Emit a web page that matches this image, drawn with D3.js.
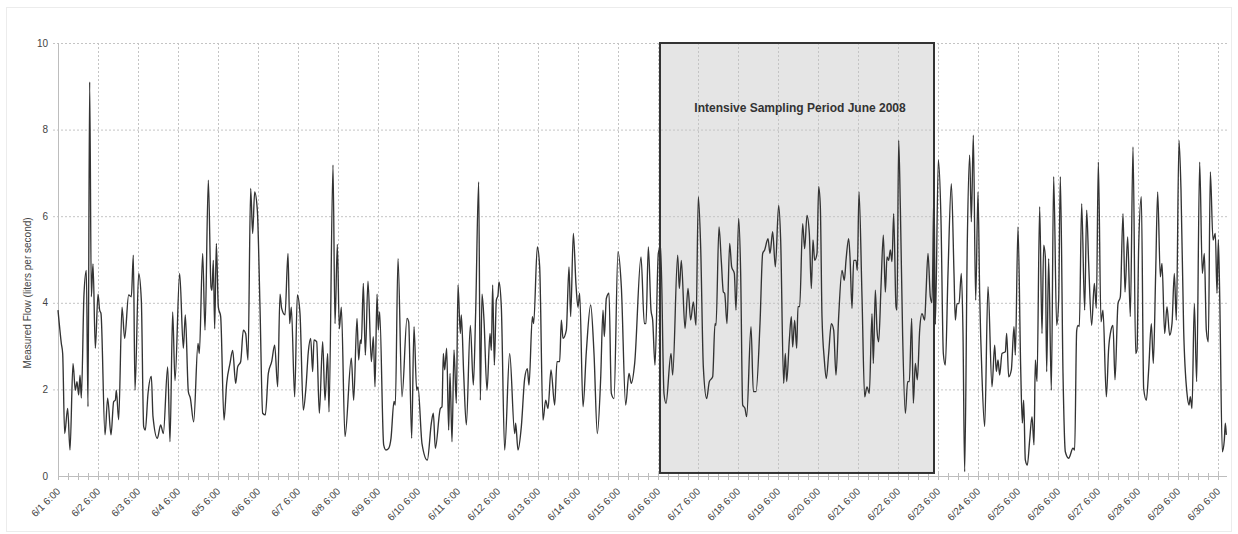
<!DOCTYPE html>
<html>
<head>
<meta charset="utf-8">
<script src="https://cdnjs.cloudflare.com/ajax/libs/d3/7.8.5/d3.min.js"></script>
<style>
  body { margin: 0; background: #fff; }
  svg { display: block; font-family: "Liberation Sans", Arial, sans-serif; }
</style>
</head>
<body>
<div id="chart"></div>
<script>
// Data: hours after 6/1/2008 6:00, and measured flow (liters per second)
var hours = [
  0, 2, 2.8, 4, 5.8, 7.2, 9, 10.4, 11.4, 12.4,
  13.2, 14, 15.6, 17, 18, 19, 20, 21, 22.4, 24,
  25, 25.8, 28.2, 29.8, 31.8, 33.4, 34.4, 35, 36.4, 38.4,
  40, 42.4, 44, 45.2, 46.2, 48.4, 50, 51.4, 52.4, 54,
  56, 57, 59.6, 61.6, 63.2, 65.8, 67.2, 68.8, 70.2, 73,
  75.2, 76.4, 78.2, 79.4, 81.4, 84, 84.8, 86.8, 88.2, 90.2,
  91.8, 92.4, 93.2, 94, 95, 96.2, 97.6, 99.6, 101.2, 103.2,
  104.8, 106.6, 107.8, 109.6, 111.2, 112.6, 114, 115.6, 116.8, 118,
  119.6, 121.2, 122.8, 124.4, 126.2, 128.2, 130, 131.8, 133.2, 134.2,
  136.2, 138, 139, 140, 142, 143.6, 145.2, 147.2, 148.8, 150.2,
  151.6, 152.8, 153.6, 155.2, 156.8, 158.8, 160.2, 161.8, 162.6, 165,
  166.2, 167.6, 168.8, 170, 172.2, 176, 177.4, 179.4, 180.4, 181.4,
  182, 183.2, 184.4, 186, 188, 189.2, 190.2, 191.4, 192.2, 193,
  195.4, 196.8, 198.4, 199.8, 201.6, 202.4, 204, 206.4, 209.4, 210.4,
  212.2, 213.6, 215.2, 216, 218.4, 221.6, 224, 225.2, 226.4, 229.4,
  230.4, 231.2, 232, 233.2, 234.4, 235.2, 236.4, 237.6, 239, 240,
  241.4, 242, 243.4, 245, 247.4, 249.2, 250.6, 252.4, 253.4, 254.4,
  255.6, 257.4, 259.2, 260, 260.8, 261.8, 263, 264, 264.6, 266,
  268, 271, 274, 274.6, 276, 278, 280, 281.6, 282.6, 284.6,
  285.4, 287.6, 289, 291, 292.6, 294, 295.8, 298, 299.4, 301,
  302, 303, 305, 306.6, 307.6, 309.2, 310.8, 312, 313, 315,
  317, 319.6, 321.6, 323.6, 325.6, 327, 327.8, 329, 330.6, 332,
  333.6, 336, 338, 340.6, 342.6, 344, 346, 349.8, 351.8, 352.8,
  354.2, 355.8, 356.8, 358.2, 360.2, 361.6, 363.6, 364.8, 367.8, 368.8,
  371.8, 372.8, 374, 376.2, 378, 379.6, 381.2, 382.8, 384.2, 385.6,
  387.2, 389.2, 390.8, 392.8, 394.2, 394.8, 396.6, 398, 399.2, 400,
  401.4, 403, 404.2, 405.8, 406.8, 408.4, 409.6, 410.8, 412.2, 413.2,
  415.8, 417.2, 418.8, 421.2, 422.8, 424, 426, 427.2, 428.8, 430.4,
  432.4, 433.6, 435.4, 436.4, 437.2, 438.8, 440, 440.8, 442, 443.2,
  444, 445, 446.8, 448, 449.4, 450.8, 452, 453, 454, 455.4,
  456.4, 457.4, 458.4, 459.8, 461, 462.4, 464, 465.4, 466.8, 468.4,
  470.4, 471.8, 472.8, 474.4, 475.2, 476.4, 477.4, 478.8, 479.6, 480.6,
  482.4, 484, 485.4, 486.8, 488.4, 489.2, 490.4, 491.4, 492.4, 493.8,
  495.2, 496.4, 497.4, 498.4, 499.4, 500.4, 501.4, 502.8, 503.4, 504.4,
  505.4, 506.8, 508.4, 509.8, 510.8, 512.2, 513.2, 514.4, 515.6, 517,
  518.4, 520, 520.8, 522, 523.4, 524.4, 525.6, 526.4, 528.2, 529.8,
  531.2, 532.4, 534, 536, 537.6, 538.4, 539.4, 540.6, 542, 543,
  544, 545.6, 547, 548, 549.2, 550.6, 552, 553, 554.4, 556,
  558, 560.4, 562, 563, 564, 565, 566.4, 568.4, 569.2, 570.4,
  572, 573.6, 574.4, 576, 577.6, 578.6, 579.4, 580.4, 581.6, 583,
  584.4, 585.6, 586.4, 587.4, 589, 590.4, 591.4, 592.4, 593.2, 594.4,
  596, 597.4, 599.2, 600.4, 601.4, 603, 604.4, 606.4, 609, 610,
  611.2, 612, 612.8, 614.2, 616, 617.2, 618.4, 620.2, 621.8, 623,
  624.2, 625.8, 627, 629, 630.4, 631.8, 633, 634.2, 636, 637.4,
  639, 640.2, 641.8, 643.4, 645, 646.6, 647.4, 648.4, 650, 651.4,
  653, 654.4, 656, 657.2, 658.6, 659.8, 661.4, 662.4, 664, 665.4,
  667, 668.4, 669.8, 671, 672.6, 673.8, 675.4, 677.4, 678.6, 679.4,
  680.4, 681.8, 683.2, 685, 686.6, 687.8, 689, 690.2, 691.4, 693,
  694.4, 695.4, 696.2, 697, 698.6, 699.8, 700.4, 701
];

var flow = [
  3.83, 3.06, 2.83, 0.98, 1.56, 0.6, 2.6, 1.98, 2.18, 1.87,
  2.33, 1.8, 4.2, 4.75, 1.6, 9.1, 4.14, 4.9, 2.95, 4.2,
  3.83, 3.75, 0.95, 1.8, 0.95, 1.72, 1.75, 1.98, 1.3, 3.9,
  3.18, 4.18, 4.14, 5.1, 1.98, 4.68, 4.06, 1.14, 1.06, 1.9,
  2.3, 1.37, 0.87, 1.18, 0.98, 2.52, 0.79, 3.79, 2.2, 4.68,
  2.95, 3.72, 1.95, 1.8, 1.25, 3.06, 2.83, 5.14, 3.37, 6.83,
  4.37, 4.29, 4.98, 3.4, 5.37, 3.9, 3.68, 1.29, 2.14, 2.6,
  2.9, 2.14, 2.52, 2.64, 3.37, 3.29, 2.68, 6.64, 5.6, 6.56,
  6.14, 3.9, 1.45, 1.41, 2.37, 2.64, 3.02, 2.06, 4.2, 3.87,
  3.72, 5.14, 3.52, 3.9, 1.83, 4.18, 3.75, 1.52, 2.06, 2.87,
  3.18, 2.41, 3.14, 3.1, 1.45, 3.1, 1.75, 2.83, 1.48, 7.18,
  3.52, 5.35, 3.4, 3.9, 0.91, 2.72, 1.75, 3.64, 2.68, 3.14,
  3.06, 4.45, 2.79, 4.5, 2.64, 3.22, 2.06, 4.2, 3.37, 3.79,
  0.72, 0.6, 0.64, 0.87, 1.72, 1.64, 5.02, 1.83, 3.64, 3.56,
  0.87, 3.45, 1.98, 2.06, 0.75, 0.37, 1.22, 1.45, 0.64, 1.56,
  1.6, 2.83, 2.45, 2.95, 1.06, 2.37, 0.79, 2.91, 1.68, 4.41,
  3.29, 3.72, 2.37, 1.18, 3.48, 2.1, 3.79, 6.79, 1.75, 4.2,
  3.6, 1.98, 3.29, 2.9, 4.41, 2.56, 4.06, 4.18, 4.48, 3.9,
  0.6, 2.83, 0.98, 1.22, 0.6, 1.14, 2.25, 2.48, 2.1, 3.68,
  3.52, 5.29, 4.83, 1.29, 1.75, 1.56, 2.45, 1.64, 2.64, 2.64,
  3.6, 3.18, 3.37, 4.83, 3.68, 5.6, 4.41, 3.9, 4.22, 1.6,
  2.87, 3.95, 2.83, 0.98, 2.25, 3.83, 3.22, 4.1, 4.22, 1.91,
  1.79, 5.18, 4.37, 1.64, 2.37, 2.14, 2.6, 5.06, 3.52, 3.52,
  5.29, 3.83, 3.6, 2.56, 5.14, 5.3, 1.9, 1.68, 2.83, 2.33,
  5.1, 4.33, 4.98, 3.41, 4.33, 3.6, 4.02, 3.48, 6.45, 5.29,
  2.52, 1.79, 2.18, 2.29, 3.52, 3.48, 5.75, 4.95, 4.25, 4.22,
  3.52, 5.37, 4.83, 4.68, 3.83, 5.95, 4.68, 1.64, 1.56, 1.37,
  3.45, 1.95, 1.95, 3.52, 5.14, 5.22, 5.48, 5.14, 5.64, 4.83,
  6.25, 5.45, 2.14, 2.83, 2.18, 3.14, 3.68, 2.98, 3.6, 2.95,
  3.91, 3.91, 5.83, 5.25, 6.02, 5.6, 4.33, 5.45, 4.98, 5.14,
  6.68, 6.22, 3.68, 2.68, 2.25, 2.83, 3.52, 3.37, 2.33, 3.68,
  4.75, 4.52, 4.98, 5.48, 5.06, 3.87, 4.98, 4.98, 4.75, 6.56,
  4.14, 1.83, 2.06, 1.91, 3.75, 2.6, 4.29, 3.37, 3.1, 4.37,
  5.56, 4.25, 5.06, 4.98, 5.22, 4.95, 6.06, 3.91, 3.83, 7.75,
  6.22, 3.22, 1.45, 2.18, 2.18, 3.64, 1.68, 2.6, 2.22, 3.37,
  3.75, 3.6, 4.22, 5.14, 4.14, 4.0, 6.6, 3.5, 7.3, 5.9,
  2.83, 2.56, 4.68, 6.75, 4.68, 3.6, 3.98, 3.98, 4.68, 3.29,
  0.1, 5.45, 7.41, 5.87, 7.87, 4.06, 6.56, 4.22, 2.29, 1.14,
  4.37, 2.06, 3.02, 2.41, 2.68, 2.33, 2.83, 2.87, 3.29, 2.29,
  2.45, 3.45, 2.79, 5.75, 2.52, 1.22, 1.75, 0.37, 0.25, 0.83,
  1.37, 0.72, 2.68, 2.18, 6.22, 3.29, 5.33, 5.06, 2.41, 5.02,
  1.98, 6.91, 3.48, 4.06, 6.91, 2.37, 0.56, 0.41, 0.64, 0.6,
  3.35, 3.48, 3.45, 6.29, 3.83, 6.14, 4.91, 3.48, 4.45, 3.87,
  7.25, 3.56, 3.83, 1.83, 2.95, 3.37, 3.48, 2.22, 3.98, 4.14,
  6.06, 4.25, 5.52, 3.68, 7.6, 2.83, 2.91, 5.29, 6.45, 2.02,
  1.75, 2.45, 3.52, 2.6, 4.68, 6.56, 4.6, 4.91, 3.29, 3.91,
  3.25, 3.52, 4.68, 3.6, 7.75, 6.6, 3.37, 1.91, 1.64, 1.83,
  1.56, 3.98, 2.18, 7.25, 4.68, 5.14, 3.37, 3.1, 7.02, 5.45,
  5.6, 4.22, 5.45, 4.22, 0.56, 0.83, 1.22, 0.95
];

// y ticks
var yTicks = [0, 2, 4, 6, 8, 10];

// Intensive sampling period (hours after start) and its label
var periodHours = [361.2, 525.6];
var periodLabel = "Intensive Sampling Period June 2008";
var yLabel = "Measured Flow (liters per second)";

var start = new Date(2008, 5, 1, 6, 0);
function toDate(h) { return new Date(start.getTime() + h * 3600 * 1000); }

if (hours.length !== flow.length) console.warn("length mismatch", hours.length, flow.length);

var data = hours.map(function(h, i) { return { t: toDate(h), v: flow[i] }; });

// svg container
var svgWidth = 1238;
var svgHeight = 534;
var margin = { top: 43, right: 11, bottom: 58, left: 58 };
var chartWidth = svgWidth - margin.left - margin.right;
var chartHeight = svgHeight - margin.top - margin.bottom;

var svg = d3.select("#chart").append("svg")
  .attr("width", svgWidth)
  .attr("height", svgHeight);

// faint frame round the picture
svg.append("rect")
  .attr("x", 6.5).attr("y", 7.5)
  .attr("width", svgWidth - 13).attr("height", svgHeight - 10)
  .attr("fill", "none")
  .attr("stroke", "#ececec");

var chartGroup = svg.append("g")
  .attr("transform", "translate(" + margin.left + "," + margin.top + ")");

var xScale = d3.scaleTime()
  .domain([start, toDate(701.4)])
  .range([0, chartWidth]);

var yScale = d3.scaleLinear()
  .domain([0, 10])
  .range([chartHeight, 0]);

var dayTicks = d3.range(0, 30).map(function(d) { return toDate(d * 24); });
var minorTicks = d3.range(0, 702, 6).map(toDate);
var fmt = d3.timeFormat("%-m/%-d %-H:%M");

// shaded sampling period
var px0 = xScale(toDate(periodHours[0]));
var px1 = xScale(toDate(periodHours[1]));
chartGroup.append("rect")
  .attr("x", px0)
  .attr("y", yScale(10))
  .attr("width", px1 - px0)
  .attr("height", yScale(0.07) - yScale(10))
  .attr("fill", "#e5e5e5");

// horizontal grid
chartGroup.append("g")
  .selectAll("line")
  .data(yTicks.filter(function(d) { return d > 0; }))
  .enter().append("line")
  .attr("x1", -5)
  .attr("x2", chartWidth)
  .attr("y1", function(d) { return yScale(d) + 0.5; })
  .attr("y2", function(d) { return yScale(d) + 0.5; })
  .attr("stroke", "#c4c4c4")
  .attr("stroke-dasharray", "2,2");

// vertical grid
chartGroup.append("g")
  .selectAll("line")
  .data(dayTicks.slice(1))
  .enter().append("line")
  .attr("x1", function(d) { return Math.round(xScale(d)) + 0.5; })
  .attr("x2", function(d) { return Math.round(xScale(d)) + 0.5; })
  .attr("y1", yScale(10))
  .attr("y2", chartHeight)
  .attr("stroke", "#c4c4c4")
  .attr("stroke-dasharray", "2,2");

// y axis line and labels
chartGroup.append("line")
  .attr("x1", 0.5).attr("x2", 0.5)
  .attr("y1", yScale(10)).attr("y2", chartHeight)
  .attr("stroke", "#bdbdbd");

chartGroup.append("g")
  .selectAll("text")
  .data(yTicks)
  .enter().append("text")
  .attr("x", -10)
  .attr("y", function(d) { return yScale(d); })
  .attr("dy", "0.35em")
  .attr("text-anchor", "end")
  .attr("font-size", 10)
  .attr("fill", "#444")
  .text(function(d) { return d; });

// x axis
chartGroup.append("line")
  .attr("x1", 0).attr("x2", chartWidth)
  .attr("y1", chartHeight + 0.5).attr("y2", chartHeight + 0.5)
  .attr("stroke", "#bdbdbd");

chartGroup.append("g")
  .selectAll("line")
  .data(minorTicks)
  .enter().append("line")
  .attr("x1", function(d) { return Math.round(xScale(d)) + 0.5; })
  .attr("x2", function(d) { return Math.round(xScale(d)) + 0.5; })
  .attr("y1", chartHeight - 3)
  .attr("y2", chartHeight + 4)
  .attr("stroke", "#bdbdbd");

chartGroup.append("g")
  .selectAll("text")
  .data(dayTicks)
  .enter().append("text")
  .attr("transform", function(d) {
    return "translate(" + (xScale(d) + 3) + "," + (chartHeight + 16) + ") rotate(-45)";
  })
  .attr("text-anchor", "end")
  .attr("font-size", 10)
  .attr("fill", "#444")
  .text(fmt);

// flow line
var line = d3.line()
  .x(function(d) { return xScale(d.t); })
  .y(function(d) { return yScale(d.v); })
  .curve(d3.curveMonotoneX);

chartGroup.append("path")
  .datum(data)
  .attr("d", line)
  .attr("fill", "none")
  .attr("stroke", "#333")
  .attr("stroke-width", 1.35)
  .attr("stroke-linejoin", "round");

// box outline and label
chartGroup.append("rect")
  .attr("x", px0)
  .attr("y", yScale(10))
  .attr("width", px1 - px0)
  .attr("height", yScale(0.07) - yScale(10))
  .attr("fill", "none")
  .attr("stroke", "#333")
  .attr("stroke-width", 2);

chartGroup.append("text")
  .attr("x", (px0 + px1) / 2 + 3)
  .attr("y", yScale(8.4))
  .attr("text-anchor", "middle")
  .attr("font-size", 12)
  .attr("font-weight", "bold")
  .attr("fill", "#333")
  .text(periodLabel);

// y axis title
svg.append("text")
  .attr("transform", "translate(31," + 293 + ") rotate(-90)")
  .attr("text-anchor", "middle")
  .attr("font-size", 10)
  .attr("fill", "#444")
  .text(yLabel);
</script>
</body>
</html>
